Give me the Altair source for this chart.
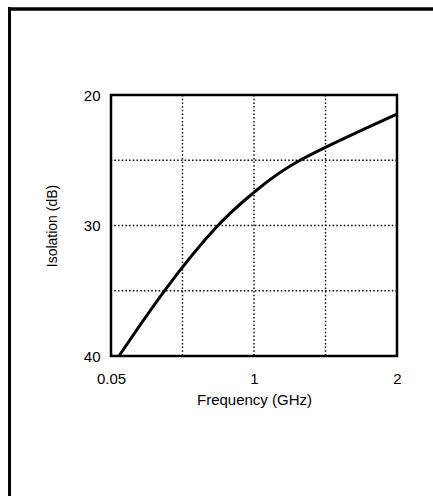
import altair as alt
import pandas as pd

# Isolation vs. frequency curve
freq_ghz = [0.103, 0.415, 0.754, 1.0, 1.322, 2.0]
isolation_db = [40.0, 34.85, 30.08, 27.46, 25.0, 21.46]

# Axis labels and dotted grid positions
x_ticks = [0.05, 1, 2]
y_ticks = [20, 30, 40]
x_grid = [0.525, 1, 1.5]
y_grid = [25, 30, 35]

W, H = 286, 261
FONT = "Liberation Sans"

curve_df = pd.DataFrame({"freq": freq_ghz, "iso": isolation_db})
xg_df = pd.DataFrame({"freq": x_grid})
yg_df = pd.DataFrame({"iso": y_grid})
one = pd.DataFrame({"k": [0]})

# Piecewise axis: 0.05..1 on the left half, 1..2 on the right half
x_scale = alt.Scale(domain=[0.05, 1, 2], range=[0, W / 2, W], nice=False, zero=False)
y_scale = alt.Scale(domain=[20, 40], reverse=True, nice=False, zero=False)

x_axis = alt.Axis(
    values=x_ticks, labelExpr="'' + datum.value", grid=False, ticks=False, tickSize=0,
    domain=False, labelPadding=15, labelFontSize=15, labelFlush=False, labelOverlap=False,
    title="Frequency (GHz)", titleFontSize=15, titleFontWeight="normal",
    titleY=36, titleBaseline="top",
)
y_axis = alt.Axis(
    values=y_ticks, grid=False, ticks=False, tickSize=0, domain=False,
    labelPadding=11, labelFontSize=15, labelOverlap=False,
    title="Isolation (dB)", titleFontSize=14, titleFontWeight="normal",
    titleX=-59, titleY=H / 2, titleAngle=270, titleAlign="center", titleBaseline="middle",
)

x_enc = alt.X("freq:Q", scale=x_scale, axis=x_axis)
y_enc = alt.Y("iso:Q", scale=y_scale, axis=y_axis)

dots = dict(color="black", strokeWidth=1.4, strokeDash=[1.5, 2.2])

vgrid = alt.Chart(xg_df).mark_rule(**dots).encode(x=x_enc)
hgrid = alt.Chart(yg_df).mark_rule(**dots).encode(y=y_enc)

curve = alt.Chart(curve_df).mark_line(
    color="black", strokeWidth=3, interpolate="natural"
).encode(x=x_enc, y=y_enc)

# Page frame (top and left edges)
frame_top = alt.Chart(one).mark_rule(color="black", strokeWidth=3.5).encode(
    x=alt.value(-103), x2=alt.value(322), y=alt.value(-86)
)
frame_left = alt.Chart(one).mark_rule(color="black", strokeWidth=3).encode(
    x=alt.value(-101.5), y=alt.value(-88), y2=alt.value(401)
)

chart = (
    alt.layer(vgrid, hgrid, curve, frame_top, frame_left)
    .properties(
        width=W,
        height=H,
        padding={"left": 111, "top": 95, "right": 36, "bottom": 140},
        autosize=alt.AutoSizeParams(type="none"),
        background="white",
    )
    .configure_view(stroke="black", strokeWidth=2.5)
    .configure_axis(labelFont=FONT, titleFont=FONT, labelColor="black", titleColor="black")
)

chart.save("out.html", embed_options={"renderer": "svg", "actions": False})
